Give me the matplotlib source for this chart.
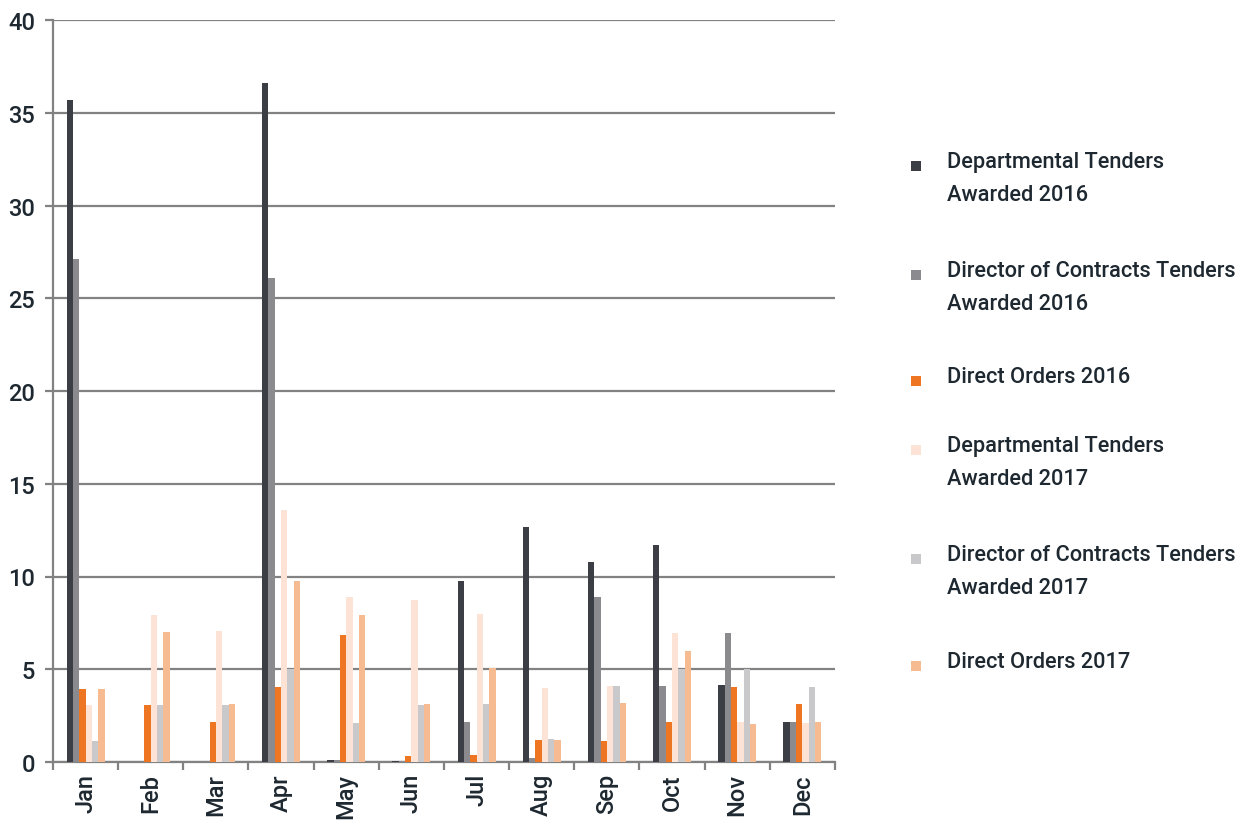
import matplotlib
matplotlib.use('Agg')
import numpy as np
from matplotlib import pyplot as plt
from matplotlib.patches import Rectangle

plt.rcParams['font.family'] = ['Roboto', 'DejaVu Sans']

months = ['Jan', 'Feb', 'Mar', 'Apr', 'May', 'Jun', 'Jul', 'Aug', 'Sep', 'Oct', 'Nov', 'Dec']

dept2016 = [35.7, 0, 0, 36.6, 0.1, 0.05, 9.76, 12.67, 10.78, 11.7, 4.15, 2.16]
dir2016 = [27.1, 0, 0, 26.1, 0.1, 0.05, 2.16, 0.2, 8.9, 4.1, 6.95, 2.16]
orders2016 = [3.94, 3.05, 2.16, 4.04, 6.87, 0.3, 0.38, 1.19, 1.13, 2.16, 4.04, 3.13]
dept2017 = [3.07, 7.92, 7.06, 13.6, 8.87, 8.76, 7.98, 3.99, 4.1, 6.95, 2.16, 2.1]
dir2017 = [1.13, 3.07, 3.07, 5.0, 2.1, 3.07, 3.13, 1.24, 4.1, 5.0, 5.0, 4.04]
orders2017 = [3.94, 7.0, 3.13, 9.75, 7.9, 3.13, 5.07, 1.19, 3.18, 5.98, 2.05, 2.16]

labels = ['Departmental Tenders\nAwarded 2016',
          'Director of Contracts Tenders\nAwarded 2016',
          'Direct Orders 2016',
          'Departmental Tenders\nAwarded 2017',
          'Director of Contracts Tenders\nAwarded 2017',
          'Direct Orders 2017']
colors = ['#3b3e45', '#8b8a8f', '#ee7623', '#fde3d6', '#c9c9cb', '#f7bb92']
series = [dept2016, dir2016, orders2016, dept2017, dir2017, orders2017]

textCol = '#1e2830'
gridCol = '#828282'

W, H = 1243, 829
fig = plt.figure(figsize=(W / 100, H / 100), dpi=100)
ax = fig.add_axes([53 / W, 1 - 763 / H, 782 / W, 742 / H])

x = np.arange(len(months))
barW = 0.097
for k, (vals, c) in enumerate(zip(series, colors)):
    ax.bar(x + 0.5 + (k - 2.5) * barW, vals, width=barW, color=c, linewidth=0, zorder=3)

ax.set_xlim(0, 12)
ax.set_ylim(0, 40)
ax.set_yticks(np.arange(0, 41, 5))
ax.yaxis.grid(True, color=gridCol, linewidth=1.6, zorder=1)
ax.set_axisbelow(True)

# ticks on the category boundaries, month names centred in between
ax.set_xticks(np.arange(0, 13))
ax.set_xticklabels([])
ax.set_xticks(x + 0.5, minor=True)
ax.set_xticklabels(months, minor=True, rotation=90, fontsize=17, color=textCol,
                   fontweight='medium')
ax.tick_params(axis='x', which='minor', length=0, pad=8)
ax.tick_params(axis='x', which='major', length=6, width=1.6, color=gridCol)
ax.tick_params(axis='y', length=6, width=1.6, color=gridCol, pad=7,
               labelsize=17, labelcolor=textCol)
for t in ax.get_yticklabels():
    t.set_fontweight('medium')

for s in ['top', 'right']:
    ax.spines[s].set_visible(False)
for s in ['left', 'bottom']:
    ax.spines[s].set_color(gridCol)
    ax.spines[s].set_linewidth(1.6)

# legend drawn by hand: marker sits beside the first line of each label
legY = [162, 271, 377, 446, 555, 662]
for lab, c, yy in zip(labels, colors, legY):
    fig.add_artist(Rectangle(((915.5 - 5) / W, 1 - (yy + 5 + 5) / H), 10 / W, 10 / H,
                             transform=fig.transFigure, color=c, linewidth=0))
    fig.text(947 / W, 1 - (yy - 10) / H, lab, fontsize=15.7, color=textCol,
             va='top', ha='left', linespacing=1.75, fontweight='medium')

fig.savefig('out.png', dpi=100)
